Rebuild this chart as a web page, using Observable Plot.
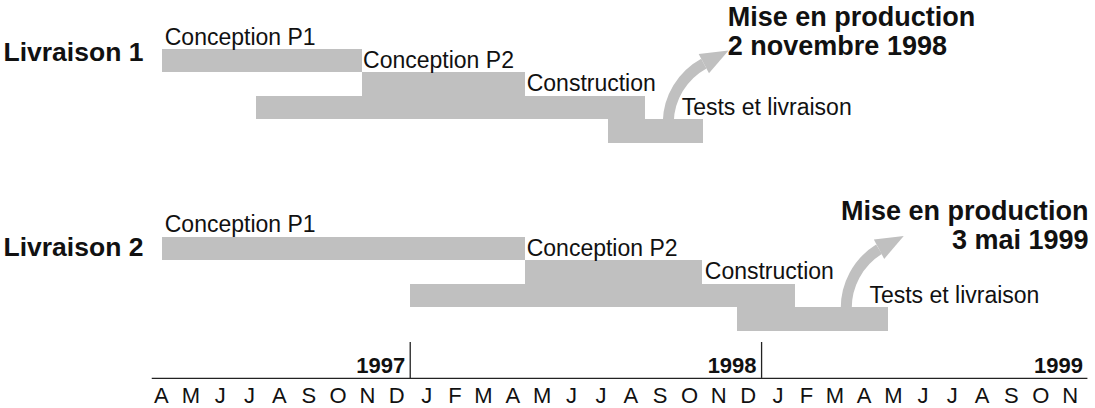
<!DOCTYPE html>
<html><head><meta charset="utf-8">
<script src="https://cdn.jsdelivr.net/npm/d3@7"></script>
<script src="https://cdn.jsdelivr.net/npm/@observablehq/plot@0.6"></script>
<style>
html,body{margin:0;padding:0;background:#fff;}
#chart svg{display:block;}
</style></head><body><div id="chart"></div>
<script>
// ---- data ----
const livraisons = ["Livraison 1", "Livraison 2"];
const phases = ["Conception P1", "Conception P2", "Construction", "Tests et livraison"];
const rowBase = [0, 8];                       // first track of each livraison
const starts1 = ["1997-04-19", "1997-11-12", "1997-07-25", "1998-07-26"];
const ends1   = ["1997-11-12", "1998-05-01", "1998-09-02", "1998-11-02"];
const starts2 = ["1997-04-19", "1998-05-01", "1998-01-01", "1998-12-07"];
const ends2   = ["1998-05-01", "1998-11-01", "1999-02-05", "1999-05-13"];
const labelAt1 = ["1997-04-21", "1997-11-13", "1998-05-02", "1998-10-10"];
const labelAt2 = ["1997-04-21", "1998-05-02", "1998-11-03", "1999-04-23"];
const livraisonLabelRows = [0.47, 8.77];
const productionTitles = ["Mise en production\n2 novembre 1998", "Mise en production\n3 mai 1999"];
const productionDates = ["1998-11-02", "1999-05-03"];
const arrowStarts = ["1998-09-26", "1999-03-30"];
const arrowEndRows = [0.6, 8.5];
const monthLabels = "A M J J A S O N D J F M A M J J A S O N D J F M A M J J A S O N".split(" ");
const years = ["1997", "1998", "1999"];
const yearEnds = ["1998-01-01", "1999-01-01", "1999-12-06"];
const yearDividers = ["1998-01-01", "1999-01-01"];

// ---- build tables ----
const D = s => new Date(s + "T00:00:00Z");
const bars = [], phaseLabels = [];
[[starts1, ends1, labelAt1], [starts2, ends2, labelAt2]].forEach(([s, e, l], k) => {
  phases.forEach((p, i) => {
    bars.push({livraison: livraisons[k], phase: p, start: D(s[i]), end: D(e[i]), row: rowBase[k] + i});
    phaseLabels.push({phase: p, x: D(l[i]), row: rowBase[k] + i});
  });
});
const arrows = arrowStarts.map((s, k) => ({x1: D(s), y1: rowBase[k] + 3.1, x2: D(productionDates[k]), y2: arrowEndRows[k]}));
const start = D("1997-04-01");
const months = monthLabels.map((m, i) => {
  const a = d3.utcMonth.offset(start, i), b = d3.utcMonth.offset(start, i + 1);
  return {m, x: new Date((+a + +b) / 2)};
});

const grey = "#c0c0c0", ink = "#111";
const font = "'Liberation Sans', Arial, Helvetica, sans-serif";
const arrowHead = {draw(ctx) { ctx.moveTo(-11, 0); ctx.lineTo(0, -28); ctx.lineTo(11, 0); ctx.closePath(); }};
const AXIS = 14;

const chart = Plot.plot({
  width: 1095, height: 408,
  marginTop: 0, marginRight: 0, marginBottom: 0, marginLeft: 0,
  style: {fontFamily: font, background: "#fff", color: ink, overflow: "visible"},
  x: {type: "utc", domain: [start, D("1999-12-01")], range: [145, 1082.6], axis: null},
  y: {type: "linear", domain: [0, 15.28], range: [49, 408], axis: null},
  marks: [
    Plot.rect(bars, {x1: "start", x2: "end", y1: "row", y2: d => d.row + 1, fill: grey, shapeRendering: "crispEdges"}),
    Plot.arrow(arrows, {x1: "x1", y1: "y1", x2: "x2", y2: "y2", bend: 30, stroke: grey, strokeWidth: 11, headLength: 0, strokeLinecap: "butt"}),
    Plot.dot(arrows, {x: "x2", y: "y2", symbol: arrowHead, rotate: 62, fill: grey, stroke: "none"}),
    Plot.text(phaseLabels, {x: "x", y: "row", text: "phase", dy: -5, lineAnchor: "bottom", textAnchor: "start", fontSize: 23, fill: ink}),
    Plot.text(livraisons, {frameAnchor: "left", y: (d, i) => livraisonLabelRows[i], text: d => d, dx: 3, textAnchor: "start", lineAnchor: "bottom", fontSize: 26.5, fontWeight: "bold", fill: ink}),
    Plot.text([productionTitles[0]], {x: () => D(productionDates[0]), y: () => 0.255, text: d => d, dx: 24, textAnchor: "start", lineAnchor: "bottom", lineHeight: 1.11, fontSize: 27, fontWeight: "bold", fill: ink}),
    Plot.text([productionTitles[1]], {frameAnchor: "right", y: () => 8.47, text: d => d, dx: -7, textAnchor: "end", lineAnchor: "bottom", lineHeight: 1.05, fontSize: 27, fontWeight: "bold", fill: ink}),
    Plot.ruleY([AXIS], {x1: () => D("1997-04-08"), x2: () => D("1999-12-06"), stroke: "#222", strokeWidth: 1.3}),
    Plot.ruleX(yearDividers.map(D), {y1: () => 12.47, y2: () => AXIS, stroke: "#222", strokeWidth: 1.3}),
    Plot.text(years, {x: (d, i) => D(yearEnds[i]), y: () => AXIS, text: d => d, dx: -5, dy: -5, textAnchor: "end", lineAnchor: "bottom", fontSize: 22, fontWeight: "bold", fill: ink}),
    Plot.text(months, {x: "x", y: () => AXIS, text: "m", dx: 1.5, dy: 25, lineAnchor: "bottom", fontSize: 22, fill: ink})
  ]
});
document.getElementById("chart").appendChild(chart);
</script>
</body></html>
